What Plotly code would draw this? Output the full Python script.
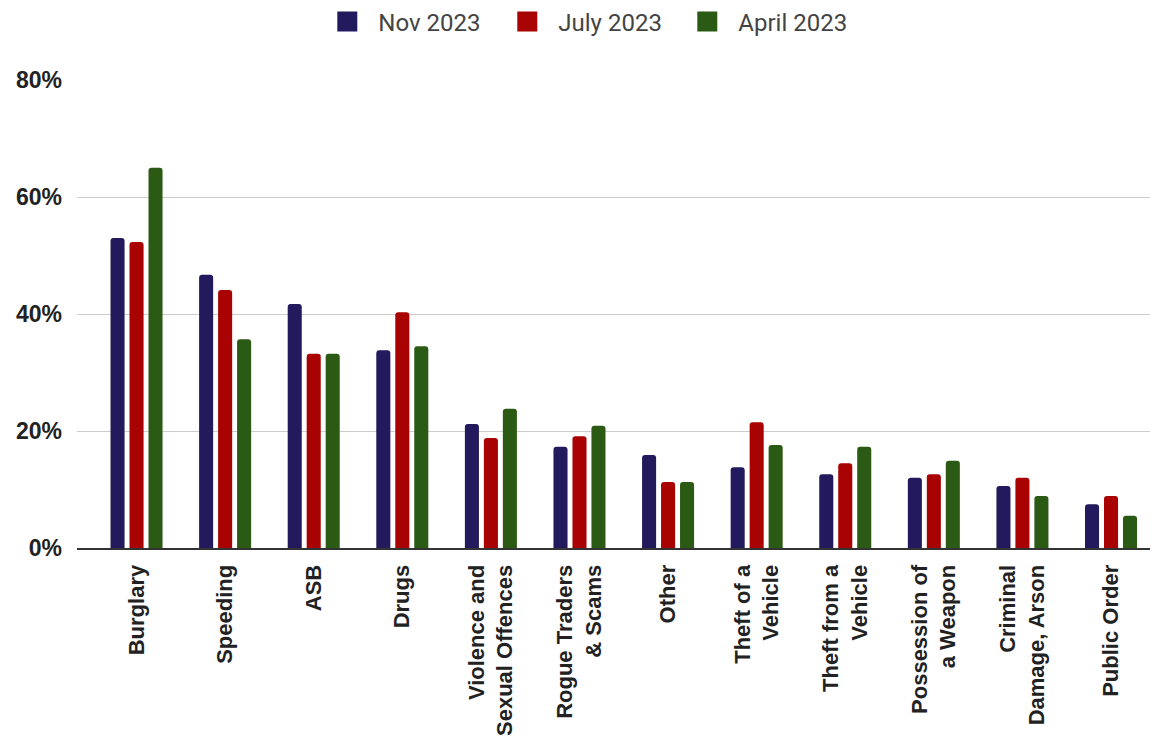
import plotly.graph_objects as go

categories = ["Burglary", "Speeding", "ASB", "Drugs", "Violence and<br>Sexual Offences",
              "Rogue Traders<br>& Scams", "Other", "Theft of a<br>Vehicle", "Theft from a<br>Vehicle",
              "Possession of<br>a Weapon", "Criminal<br>Damage, Arson", "Public Order"]
nov_2023 = [53.0, 46.7, 41.7, 33.8, 21.2, 17.3, 15.9, 13.8, 12.6, 12.0, 10.6, 7.5]
july_2023 = [52.3, 44.1, 33.2, 40.3, 18.8, 19.1, 11.3, 21.5, 14.5, 12.6, 12.0, 8.9]
april_2023 = [65.0, 35.7, 33.2, 34.5, 23.8, 20.9, 11.3, 17.6, 17.3, 14.9, 8.9, 5.5]
series_names = ["Nov 2023", "July 2023", "April 2023"]
colors = ["#221a5c", "#a80202", "#2b5a14"]
y_ticks = [0, 20, 40, 60, 80]
y_tick_text = ["0%", "20%", "40%", "60%", "80%"]

x_idx = list(range(len(categories)))
fig = go.Figure()
for name, vals, col in zip(series_names, [nov_2023, july_2023, april_2023], colors):
    fig.add_trace(go.Bar(x=x_idx, y=vals, name=name, showlegend=False,
                         marker=dict(color=col, cornerradius=3, line_width=0)))
# legend proxies (square swatches)
for name, col in zip(series_names, colors):
    fig.add_trace(go.Scatter(x=[None], y=[None], mode="markers", name=name,
                             marker=dict(symbol="square", size=17, color=col,
                                         line=dict(color=col, width=4))))

fig.update_layout(
    width=1152, height=729,
    margin=dict(l=69, r=10, t=72, b=189, autoexpand=False),
    paper_bgcolor="white", plot_bgcolor="white",
    barmode="group", bargap=0.357, bargroupgap=0.26,
    font=dict(family="Liberation Sans, Arial, sans-serif"),
    legend=dict(orientation="h", xref="container", x=0.502, xanchor="center",
                yref="container", y=0.9808, yanchor="middle",
                font=dict(family="Roboto, sans-serif", size=24, color="#444444"),
                itemwidth=52, entrywidthmode="pixels", entrywidth=113),
    showlegend=True,
)
fig.update_xaxes(
    tickmode="array", tickvals=x_idx, ticktext=categories, tickangle=-90,
    range=[-0.672, 11.44],
    tickfont=dict(family="Liberation Sans, Arial, sans-serif", size=22, color="#222222", weight="bold"),
    showline=True, linecolor="#333333", linewidth=2, ticks="", showgrid=False, zeroline=False,
    ticklabelstandoff=6,
)
fig.update_yaxes(
    range=[0, 80], tickvals=y_ticks, ticktext=y_tick_text,
    tickfont=dict(family="Liberation Sans, Arial, sans-serif", size=23, color="#222222", weight="bold"),
    showgrid=True, gridcolor="#cccccc", gridwidth=1, zeroline=False, ticks="", ticklabelstandoff=14,
)
fig.write_html("out.html")
